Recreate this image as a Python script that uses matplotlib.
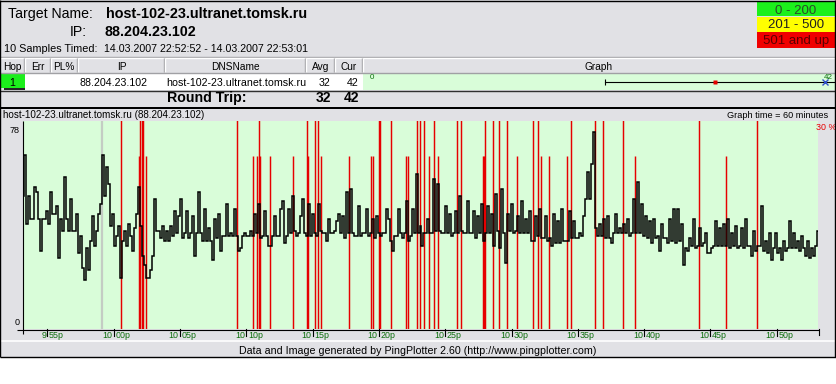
import numpy as np
import matplotlib
matplotlib.use("Agg")
import matplotlib.pyplot as plt
from matplotlib.patches import Rectangle
from matplotlib import transforms

# ---------------- data ----------------
target_name = "host-102-23.ultranet.tomsk.ru"
target_ip = "88.204.23.102"
samples_label = "10 Samples Timed:"
samples_range = "14.03.2007 22:52:52 - 14.03.2007 22:53:01"
legend_labels = ["0 - 200", "201 - 500", "501 and up"]
table_headers = ["Hop", "Err", "PL%", "IP", "DNSName", "Avg", "Cur", "Graph"]
hop_number = "1"
hop_avg = 32
hop_cur = 42
hop_min = 22
hop_max = 46
graph_title = "host-102-23.ultranet.tomsk.ru (88.204.23.102)"
graph_time_text = "Graph time = 60 minutes"
footer_text = "Data and Image generated by PingPlotter 2.60 (http://www.pingplotter.com)"

# time axis in minutes after 21:00
graph_start = 53.16
graph_end = 113.11
tick_minutes = [55, 60, 65, 70, 75, 80, 85, 90, 95, 100, 105, 110]
tick_hours = ["9", "10", "10", "10", "10", "10", "10", "10", "10", "10", "10", "10"]
tick_mins = ["55p", "00p", "05p", "10p", "15p", "20p", "25p", "30p", "35p", "40p", "45p", "50p"]
rt_axis_labels = [78, 0]
loss_axis_top = 30

# round-trip samples (ms), left to right
rt_part1 = [51, 68, 40, 51, 42, 42, 55, 53, 42, 29,
            42, 42, 45, 40, 53, 44, 44, 47, 26, 42,
            37, 59, 42, 37, 50, 37, 37, 44, 28, 35,
            22, 17, 30, 21, 33, 43, 31, 37, 44, 48,
            68, 51, 63, 56, 39, 44, 31, 35, 39, 18,
            33, 37, 31, 40, 35, 29, 38, 44, 55, 39,
            27, 23, 18, 18, 21, 27, 50, 37, 37, 34,
            39, 33, 37, 33, 39, 35, 45, 36, 43, 50,
            34, 36, 45, 34, 36, 43, 27, 36, 53, 36,
            33, 46, 33, 38, 33, 25, 42, 34, 44]
rt_part2 = [29, 35, 35, 48, 35, 36, 35, 46, 35, 29,
            30, 35, 36, 35, 35, 37, 35, 44, 36, 48,
            34, 35, 45, 35, 31, 31, 35, 43, 35, 35,
            46, 49, 32, 35, 46, 36, 51, 37, 35, 36,
            43, 50, 36, 35, 48, 35, 44, 36, 35, 48,
            37, 36, 36, 33, 42, 36, 36, 37, 41, 44,
            36, 43, 34, 53, 36, 54, 36, 35, 35, 47,
            35, 36, 36, 46, 35, 36, 42, 34, 43, 36,
            35, 36, 36, 46, 42, 33, 29, 35, 35, 46,
            36, 34, 36, 49, 33, 35, 46, 36, 60, 36]
rt_part3 = [39, 31, 36, 36, 42, 36, 36, 58, 37, 56,
            37, 36, 36, 47, 36, 44, 35, 36, 45, 36,
            51, 37, 36, 36, 49, 36, 36, 45, 34, 43,
            36, 48, 33, 36, 47, 36, 44, 31, 52, 37,
            30, 54, 36, 24, 44, 37, 48, 36, 37, 43,
            36, 49, 36, 42, 36, 45, 33, 33, 43, 35,
            46, 34, 34, 43, 33, 34, 31, 44, 32, 41,
            32, 46, 33, 33, 33, 45, 34, 41, 34, 34,
            36, 35, 43, 50, 61, 50, 64, 77, 38, 35,
            40, 35, 42, 34, 43, 34, 32, 36, 44, 36]
rt_part4 = [38, 36, 40, 36, 42, 35, 36, 50, 36, 57,
            36, 48, 35, 43, 34, 41, 32, 42, 34, 35,
            29, 40, 34, 34, 32, 42, 33, 46, 32, 46,
            33, 40, 23, 30, 29, 34, 31, 42, 30, 31,
            38, 31, 32, 36, 28, 28, 30, 31, 41, 31,
            38, 31, 40, 31, 42, 30, 36, 31, 39, 30,
            31, 38, 30, 42, 31, 31, 27, 37, 29, 31,
            31, 47, 29, 33, 28, 36, 25, 30, 36, 28,
            30, 25, 33, 29, 30, 41, 30, 36, 30, 33,
            29, 35, 30, 27, 33, 26, 30, 27, 31, 37]

# packet-loss events (minutes after 21:00)
loss_full_times = [60.55, 62.01, 62.11, 62.21, 69.32, 70.94, 74.60, 75.16, 75.41,
                   79.99, 80.06, 80.89, 82.85, 83.10, 83.40, 84.18, 85.87, 86.17,
                   88.02, 88.63, 89.03, 89.64, 91.60, 92.02, 94.46, 96.27, 96.88,
                   98.43, 104.16, 108.51]
loss_partial_times = [61.87, 62.40, 70.53, 70.83, 71.06, 71.81, 73.54, 74.68, 75.66,
                      77.77, 79.40, 79.53, 82.04, 82.22, 83.80, 84.48, 87.83, 87.93,
                      90.39, 92.25, 92.81, 94.21, 99.31, 106.18]
loss_full_pct = 100
loss_partial_pct = 25
gap_times = [59.10]

# ---------------- style ----------------
plt.rcParams['font.family'] = ['Liberation Sans', 'DejaVu Sans']
W, H = 837, 384
GRAY = '#E1E1E5'
EDGE = '#A0A0A4'
LGREEN = '#D9FDD9'
HOPGREEN = '#1CEE1C'
TXTGREEN = '#0B6E0B'
RED = '#E60000'

fig = plt.figure(figsize=(W / 100, H / 100), dpi=100)
fig.patch.set_facecolor('white')


def box(x0, y0, x1, y1):
    return [x0 / W, 1 - y1 / H, (x1 - x0) / W, (y1 - y0) / H]


bg = fig.add_axes([0, 0, 1, 1], zorder=0)
bg.set_xlim(0, W); bg.set_ylim(H, 0); bg.axis('off')
top = fig.add_axes([0, 0, 1, 1], zorder=5)
top.set_xlim(0, W); top.set_ylim(H, 0); top.axis('off'); top.patch.set_alpha(0)


def R(ax, x0, y0, x1, y1, color, z=1):
    ax.add_patch(Rectangle((x0, y0), x1 - x0, y1 - y0, facecolor=color,
                           edgecolor='none', zorder=z))


def L(ax, xs, ys, color='black', lw=0.75, z=3):
    ax.plot(xs, ys, color=color, lw=lw, zorder=z, solid_capstyle='butt')


# window background
R(bg, 0, 0, 836, 357, GRAY)

# header texts
bg.text(8, 18, "Target Name:", fontsize=10.2, va='baseline', ha='left')
bg.text(106, 18, target_name, fontsize=10.4, fontweight='bold', va='baseline', ha='left')
bg.text(70, 36.5, "IP:", fontsize=10.2, va='baseline', ha='left')
bg.text(105, 36.5, target_ip, fontsize=10.3, fontweight='bold', va='baseline', ha='left')
bg.text(4, 52, samples_label, fontsize=7.8, va='baseline', ha='left')
bg.text(104, 52, samples_range, fontsize=7.7, va='baseline', ha='left')

# legend boxes
leg_colors = ['#1CF01C', '#FFFF00', '#F00000']
leg_txt_colors = ['#2A4A2A', '#202020', '#5A0000']
leg_rows = [(2, 16, 13.5), (16.5, 31.5, 28.5), (32, 47.5, 44)]
for (y0, y1, yb), c, tc, lab in zip(leg_rows, leg_colors, leg_txt_colors, legend_labels):
    R(bg, 757, y0, 835, y1, c, z=2)
    bg.text(796, yb, lab, fontsize=9.5, color=tc, ha='center', va='baseline', zorder=3)

# table header row
L(bg, [0, 836], [56.5, 56.5], EDGE, 1)
L(bg, [0, 836], [57.5, 57.5], 'white', 1)
col_edges = [25, 51, 78, 165, 306, 335, 363]
for xc in col_edges:
    L(bg, [xc - 0.5, xc - 0.5], [58, 72], EDGE, 1)
    L(bg, [xc + 0.5, xc + 0.5], [58, 72], 'white', 1)
L(bg, [0, 836], [72.5, 72.5], EDGE, 1)
head_centers = [12, 38, 64, 121.5, 235.5, 320.5, 349, 599]
for cx, lab in zip(head_centers, table_headers):
    bg.text(cx, 70, lab, fontsize=7.3, ha='center', va='baseline', zorder=4)

# hop row
R(bg, 25, 73, 363, 90, 'white')
R(bg, 363, 73, 836, 90, LGREEN)
R(bg, 1, 73, 25, 88, HOPGREEN, z=2)
L(bg, [4, 25], [88.5, 88.5], 'black', 1.2)
bg.text(12, 85.5, hop_number, fontsize=7.7, ha='center', va='baseline', zorder=4)
bg.text(80, 85.5, target_ip, fontsize=7.7, ha='left', va='baseline', zorder=4)
bg.text(166, 85.5, target_name, fontsize=7.7, ha='left', va='baseline', zorder=4)
bg.text(330.5, 85.5, str(hop_avg), fontsize=7.7, ha='right', va='baseline', zorder=4)
bg.text(358.5, 85.5, str(hop_cur), fontsize=7.7, ha='right', va='baseline', zorder=4)
L(bg, [0, 836], [90.5, 90.5], '#303030', 1)

# round trip row
bg.text(167, 102, "Round Trip:", fontsize=10.2, fontweight='bold', ha='left', va='baseline')
bg.text(331.5, 102, str(hop_avg), fontsize=10, fontweight='bold', ha='right', va='baseline')
bg.text(359.5, 102, str(hop_cur), fontsize=10, fontweight='bold', ha='right', va='baseline')
R(bg, 0, 106.5, 836, 109, 'black', z=3)

# mini graph in the hop row
axm = fig.add_axes(box(363, 73, 836, 90), zorder=2)
axm.axis('off')
axm.set_xlim(0, 43.0); axm.set_ylim(0, 1)
axm.plot([hop_min, hop_max], [0.45, 0.45], color='black', lw=0.8)
axm.plot([hop_min], [0.45], marker='|', ms=4, mew=0.8, color='black')
axm.plot([hop_avg], [0.45], marker='s', ms=2.3, color=RED, mec='none')
axm.plot([hop_cur], [0.45], marker='x', ms=5, mew=1.0, color='#3050C8')
axm.text(0.6, 0.62, "0", fontsize=5.8, color=TXTGREEN, ha='left', va='baseline')
axm.text(hop_cur - 0.1, 0.62, str(hop_cur), fontsize=5.8, color=TXTGREEN, ha='left', va='baseline')

# graph section texts
bg.text(3, 118.5, graph_title, fontsize=7.1, ha='left', va='baseline')
bg.text(828, 118, graph_time_text, fontsize=6.6, ha='right', va='baseline')
top.text(836.5, 130, "%d %%" % loss_axis_top, fontsize=6.4, color=RED, ha='right', va='baseline')

# footer
L(bg, [0, 836], [340.5, 340.5], 'white', 1.2)
bg.text(418, 353.5, footer_text, fontsize=7.7, ha='center', va='baseline')

# border
L(top, [0.5, 0.5], [0, 357], 'black', 1)
L(top, [0, 836], [0.5, 0.5], 'black', 1)
L(top, [835.5, 835.5], [0, 357], 'black', 1)
L(top, [0, 836], [356.5, 356.5], 'black', 1)

# ---------------- main graph ----------------
rt = np.array(rt_part1 + rt_part2 + rt_part3 + rt_part4, dtype=float)
times = np.linspace(graph_start, graph_end, len(rt))

ax_loss = fig.add_axes(box(23, 121, 818, 329), zorder=2)
ax_loss.set_facecolor(LGREEN)
ax_loss.set_xlim(graph_start, graph_end)
ax_loss.set_ylim(0, loss_axis_top)
for s in ax_loss.spines.values():
    s.set_visible(False)
ax_loss.set_xticks([]); ax_loss.set_yticks([])
ax_loss.vlines(gap_times, 0, loss_axis_top, color='#C4CCC4', lw=1.6)
ax_loss.vlines(loss_full_times, 0, loss_full_pct, color=RED, lw=1.05)
ax_loss.vlines(loss_partial_times, 0, loss_partial_pct, color=RED, lw=1.05)

ax_rt = ax_loss.twinx()
ax_rt.set_zorder(3)
ax_rt.set_xlim(graph_start, graph_end)
ax_rt.set_ylim(-2.84, 81.66)
for s in ax_rt.spines.values():
    s.set_visible(False)
ax_rt.set_xticks([]); ax_rt.set_yticks([])
ax_rt.plot(times, rt, color='black', lw=1.1, drawstyle='steps-mid', solid_joinstyle='miter')

# y labels
ytr = transforms.blended_transform_factory(ax_rt.transAxes, ax_rt.transData)
ytr = transforms.offset_copy(ytr, fig=fig, x=-3, y=-3, units='dots')
for v in rt_axis_labels:
    ax_rt.text(0, v, str(v), transform=ytr, fontsize=6.5, ha='right', va='baseline', clip_on=False)

# x ticks
xtr = transforms.blended_transform_factory(ax_rt.transData, ax_rt.transAxes)
tick_len = 7 / 208
for t, hh, mm in zip(tick_minutes, tick_hours, tick_mins):
    ax_rt.plot([t, t], [0, -tick_len], transform=xtr, color='black', lw=0.8, clip_on=False)
    ax_rt.text(t, 0, hh, transform=transforms.offset_copy(xtr, fig=fig, x=-1.2, y=-9.5, units='dots'),
               fontsize=6.4, color=TXTGREEN, ha='right', va='baseline', clip_on=False)
    ax_rt.text(t, 0, mm, transform=transforms.offset_copy(xtr, fig=fig, x=1.6, y=-9.5, units='dots'),
               fontsize=6.4, color=TXTGREEN, ha='left', va='baseline', clip_on=False)
ax_rt.plot([graph_end, graph_end], [0, -0.8 * tick_len], transform=transforms.offset_copy(xtr, fig=fig, x=1, units='dots'),
           color='black', lw=0.8, clip_on=False)

# axis lines
L(top, [23.5, 23.5], [121, 333.5], 'black', 0.8)
L(top, [17, 819.5], [329.5, 329.5], 'black', 0.8)

fig.savefig("out.png", dpi=100, facecolor=fig.get_facecolor())
